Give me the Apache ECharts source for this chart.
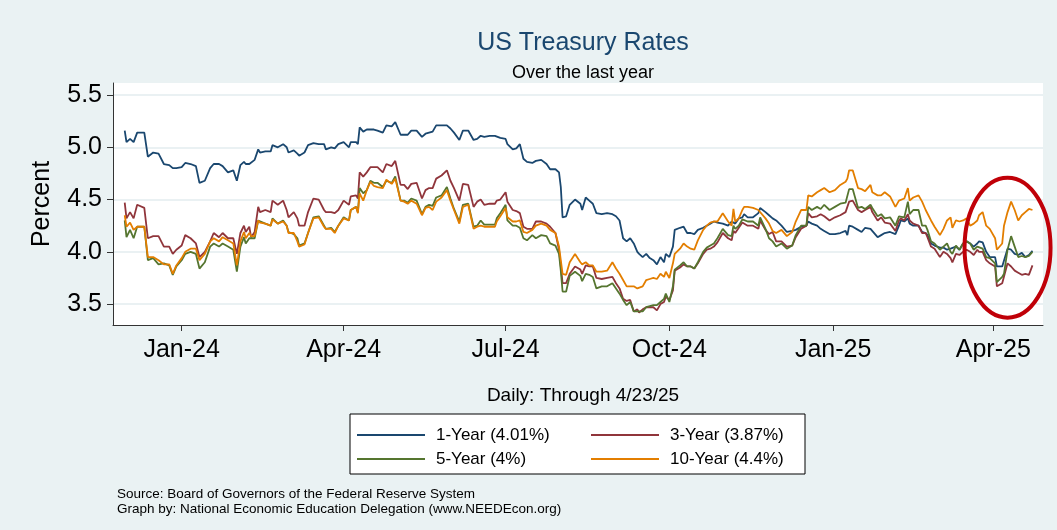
<!DOCTYPE html>
<html>
<head>
<meta charset="utf-8">
<title>US Treasury Rates</title>
<script src="https://cdn.jsdelivr.net/npm/echarts@6/dist/echarts.min.js"></script>
<style>
html, body { margin: 0; padding: 0; background: #fff; }
#rates_chart { width: 1057px; height: 530px; }
</style>
</head>
<body>
<div id="rates_chart"></div>
<script>
//日期
var dates = [
	'2023-11-30','2023-12-01','2023-12-03','2023-12-05','2023-12-07','2023-12-11','2023-12-13','2023-12-16','2023-12-19','2023-12-22','2023-12-25','2023-12-27','2023-12-29','2024-01-01','2024-01-03','2024-01-06','2024-01-09','2024-01-11','2024-01-14','2024-01-17','2024-01-19','2024-01-22','2024-01-24','2024-01-27','2024-01-30','2024-02-01','2024-02-03','2024-02-05','2024-02-06','2024-02-08',
	'2024-02-09','2024-02-11','2024-02-13','2024-02-14','2024-02-17','2024-02-20','2024-02-21','2024-02-24','2024-02-27','2024-02-29','2024-03-01','2024-03-04','2024-03-06','2024-03-07','2024-03-10','2024-03-12','2024-03-15','2024-03-18','2024-03-21','2024-03-22','2024-03-25','2024-03-27','2024-03-29','2024-04-01','2024-04-04','2024-04-05','2024-04-08','2024-04-09','2024-04-10','2024-04-12','2024-04-14','2024-04-16','2024-04-18','2024-04-20',
	'2024-04-21','2024-04-23','2024-04-25','2024-04-28','2024-04-30','2024-05-03','2024-05-05','2024-05-07','2024-05-09','2024-05-12','2024-05-15','2024-05-17','2024-05-19','2024-05-21','2024-05-23','2024-05-26','2024-05-29','2024-05-31','2024-06-02','2024-06-05','2024-06-07','2024-06-10','2024-06-13','2024-06-15','2024-06-17','2024-06-19','2024-06-22','2024-06-25','2024-06-26','2024-06-28','2024-07-01','2024-07-02',
	'2024-07-05','2024-07-07','2024-07-09','2024-07-11','2024-07-13','2024-07-16','2024-07-18','2024-07-21','2024-07-24','2024-07-26','2024-07-29','2024-07-31','2024-08-01','2024-08-02','2024-08-04','2024-08-06','2024-08-09','2024-08-12','2024-08-13','2024-08-15','2024-08-17','2024-08-19','2024-08-21','2024-08-24','2024-08-27','2024-08-30','2024-09-01','2024-09-03','2024-09-05','2024-09-07','2024-09-09','2024-09-11','2024-09-13','2024-09-14',
	'2024-09-16','2024-09-18','2024-09-20','2024-09-22','2024-09-24','2024-09-26','2024-09-28','2024-09-29','2024-10-01','2024-10-03','2024-10-04','2024-10-07','2024-10-09','2024-10-11','2024-10-13','2024-10-15','2024-10-17','2024-10-20','2024-10-22','2024-10-24','2024-10-26','2024-10-28','2024-10-31','2024-11-03','2024-11-05','2024-11-06','2024-11-07','2024-11-09','2024-11-11','2024-11-12','2024-11-14','2024-11-17','2024-11-20','2024-11-21','2024-11-24','2024-11-26',
	'2024-11-28','2024-11-30','2024-12-03','2024-12-06','2024-12-09','2024-12-11','2024-12-14','2024-12-17','2024-12-18','2024-12-20','2024-12-23','2024-12-25','2024-12-27','2024-12-30','2025-01-02','2025-01-05','2025-01-08','2025-01-09','2025-01-10','2025-01-12','2025-01-15','2025-01-17','2025-01-19','2025-01-22','2025-01-23','2025-01-26','2025-01-28','2025-01-30','2025-02-02','2025-02-05','2025-02-07',
	'2025-02-08','2025-02-10','2025-02-12','2025-02-13','2025-02-15','2025-02-18','2025-02-20','2025-02-22','2025-02-23','2025-02-25','2025-02-27','2025-03-02','2025-03-04','2025-03-06','2025-03-08','2025-03-09','2025-03-11','2025-03-13','2025-03-15','2025-03-17','2025-03-19','2025-03-21','2025-03-23','2025-03-24','2025-03-26','2025-03-28','2025-03-30','2025-04-02','2025-04-03','2025-04-06','2025-04-07','2025-04-09','2025-04-11','2025-04-13','2025-04-15','2025-04-17','2025-04-19','2025-04-21','2025-04-23'
];
//1-Year
var oneYear = [
	5.16,5.05,5.08,5.05,5.14,5.14,4.91,4.95,4.94,4.84,4.83,4.80,4.80,4.81,4.85,4.84,4.82,4.66,4.68,4.80,4.84,4.84,4.82,4.76,4.78,4.68,4.83,4.86,4.84,4.84,
	4.84,4.88,4.98,4.95,4.96,4.96,5.02,5.00,5.03,5.00,4.95,4.97,4.94,4.92,4.95,5.02,5.04,5.03,5.03,4.98,5.00,4.99,5.03,5.05,5.00,5.05,5.05,5.03,5.19,5.15,5.17,5.17,5.17,5.16,
	5.16,5.14,5.21,5.20,5.24,5.12,5.12,5.12,5.16,5.16,5.10,5.13,5.14,5.15,5.21,5.21,5.21,5.18,5.14,5.07,5.16,5.16,5.07,5.08,5.11,5.10,5.11,5.11,5.12,5.09,5.08,5.03,
	4.98,4.99,5.03,4.89,4.86,4.85,4.87,4.88,4.84,4.79,4.79,4.76,4.62,4.33,4.34,4.45,4.50,4.46,4.40,4.52,4.49,4.46,4.37,4.36,4.37,4.36,4.34,4.30,4.13,4.10,4.13,4.08,4.00,3.98,
	3.95,3.98,3.94,3.92,3.88,3.95,3.90,3.98,3.95,4.05,4.21,4.23,4.24,4.18,4.18,4.17,4.21,4.23,4.25,4.27,4.29,4.28,4.27,4.25,4.29,4.30,4.27,4.32,4.33,4.36,4.33,4.33,4.37,4.42,4.38,4.35,
	4.32,4.30,4.25,4.19,4.20,4.21,4.24,4.25,4.29,4.27,4.25,4.22,4.20,4.17,4.17,4.18,4.20,4.16,4.25,4.24,4.21,4.19,4.23,4.22,4.21,4.14,4.16,4.18,4.19,4.17,4.25,
	4.30,4.29,4.32,4.27,4.25,4.25,4.19,4.18,4.16,4.08,4.06,4.04,4.04,4.02,4.03,4.02,4.05,4.02,4.08,4.10,4.08,4.05,4.08,4.10,4.09,4.00,3.95,3.95,3.86,3.86,3.86,4.03,4.02,3.98,3.97,3.99,3.95,3.97,4.01
];
//3-Year
var threeYear = [
	4.47,4.32,4.38,4.32,4.45,4.42,4.13,4.15,4.15,4.05,4.05,3.98,4.02,4.06,4.16,4.13,4.08,3.95,4.00,4.10,4.18,4.14,4.18,4.13,4.13,3.98,4.18,4.25,4.19,4.24,
	4.14,4.19,4.43,4.38,4.40,4.38,4.49,4.45,4.49,4.40,4.33,4.38,4.32,4.25,4.25,4.38,4.51,4.50,4.40,4.38,4.38,4.37,4.40,4.49,4.45,4.53,4.54,4.51,4.76,4.72,4.76,4.81,4.81,4.81,
	4.81,4.76,4.84,4.82,4.87,4.64,4.64,4.60,4.65,4.66,4.51,4.59,4.61,4.61,4.70,4.73,4.78,4.68,4.61,4.49,4.65,4.64,4.43,4.48,4.50,4.45,4.46,4.46,4.49,4.50,4.57,4.48,
	4.40,4.39,4.37,4.24,4.22,4.22,4.29,4.29,4.27,4.24,4.18,4.02,3.86,3.70,3.70,3.79,3.86,3.83,3.79,3.87,3.86,3.86,3.75,3.74,3.75,3.76,3.70,3.65,3.55,3.53,3.54,3.43,3.45,3.42,
	3.45,3.47,3.47,3.47,3.44,3.50,3.52,3.57,3.54,3.63,3.82,3.85,3.88,3.86,3.86,3.84,3.89,3.98,4.02,4.03,4.05,4.09,4.18,4.13,4.11,4.20,4.18,4.23,4.28,4.27,4.25,4.25,4.22,4.30,4.21,4.17,
	4.19,4.10,4.10,4.05,4.06,4.14,4.22,4.25,4.37,4.33,4.34,4.36,4.34,4.30,4.33,4.35,4.38,4.37,4.48,4.49,4.40,4.38,4.40,4.43,4.38,4.30,4.33,4.28,4.27,4.20,4.30,
	4.32,4.30,4.36,4.30,4.27,4.25,4.18,4.18,4.14,4.05,4.03,3.95,4.00,3.98,3.94,3.90,3.98,3.97,4.00,4.02,4.00,3.97,4.02,4.00,4.00,3.92,3.89,3.86,3.67,3.70,3.71,3.89,3.86,3.82,3.80,3.78,3.79,3.78,3.87
];
//5-Year
var fiveYear = [
	4.30,4.14,4.21,4.13,4.24,4.24,3.92,3.94,3.88,3.89,3.87,3.78,3.86,3.92,3.98,4.00,3.98,3.84,3.90,4.05,4.08,4.05,4.08,4.05,4.02,3.81,4.05,4.14,4.08,4.13,
	4.13,4.13,4.30,4.29,4.27,4.25,4.32,4.27,4.30,4.25,4.19,4.17,4.13,4.06,4.08,4.18,4.33,4.34,4.25,4.22,4.23,4.19,4.25,4.33,4.30,4.40,4.43,4.38,4.61,4.56,4.59,4.68,4.66,4.66,
	4.65,4.62,4.68,4.66,4.72,4.49,4.49,4.47,4.51,4.49,4.36,4.43,4.45,4.44,4.52,4.54,4.62,4.51,4.41,4.29,4.45,4.46,4.24,4.25,4.30,4.26,4.26,4.26,4.32,4.37,4.45,4.30,
	4.25,4.25,4.23,4.13,4.11,4.16,4.13,4.16,4.15,4.08,4.06,3.98,3.82,3.62,3.62,3.77,3.81,3.77,3.72,3.79,3.78,3.76,3.65,3.67,3.67,3.70,3.65,3.60,3.54,3.49,3.52,3.43,3.43,3.42,
	3.43,3.47,3.48,3.49,3.49,3.52,3.55,3.60,3.52,3.67,3.83,3.87,3.90,3.86,3.86,3.84,3.90,4.00,4.04,4.06,4.08,4.13,4.22,4.16,4.15,4.25,4.22,4.25,4.31,4.31,4.29,4.29,4.25,4.33,4.22,4.13,
	4.10,4.05,4.08,4.03,4.06,4.16,4.25,4.25,4.43,4.40,4.43,4.41,4.45,4.40,4.43,4.46,4.47,4.46,4.60,4.60,4.42,4.43,4.41,4.45,4.42,4.34,4.36,4.32,4.33,4.25,4.34,
	4.34,4.33,4.48,4.36,4.40,4.40,4.25,4.25,4.21,4.10,4.08,4.02,4.05,4.08,4.00,3.98,4.06,4.02,4.08,4.10,4.08,4.02,4.05,4.06,4.03,3.95,3.94,3.89,3.71,3.76,3.79,4.02,4.15,4.05,3.95,3.96,3.95,3.96,4.00
];
//10-Year
var tenYear = [
	4.35,4.24,4.28,4.21,4.24,4.24,3.95,3.95,3.92,3.88,3.88,3.79,3.87,3.94,4.00,4.03,4.03,3.92,3.98,4.10,4.13,4.10,4.14,4.11,4.08,3.87,4.10,4.19,4.13,4.18,
	4.15,4.15,4.30,4.28,4.27,4.25,4.31,4.27,4.29,4.25,4.18,4.18,4.10,4.05,4.07,4.18,4.32,4.33,4.24,4.22,4.22,4.18,4.25,4.32,4.30,4.40,4.43,4.37,4.56,4.49,4.59,4.67,4.63,4.62,
	4.62,4.61,4.69,4.65,4.70,4.49,4.48,4.46,4.49,4.46,4.35,4.42,4.43,4.40,4.48,4.52,4.59,4.49,4.40,4.27,4.43,4.45,4.22,4.24,4.25,4.24,4.24,4.24,4.29,4.34,4.42,4.33,
	4.29,4.29,4.30,4.19,4.18,4.21,4.25,4.27,4.25,4.21,4.18,4.05,3.92,3.79,3.78,3.90,3.98,3.90,3.88,3.90,3.87,3.87,3.81,3.81,3.82,3.90,3.84,3.79,3.73,3.67,3.67,3.67,3.65,3.64,
	3.67,3.73,3.74,3.75,3.74,3.79,3.76,3.81,3.75,3.89,3.98,4.03,4.08,4.05,4.03,4.02,4.11,4.21,4.25,4.28,4.29,4.29,4.37,4.29,4.25,4.41,4.29,4.32,4.40,4.43,4.43,4.42,4.40,4.41,4.32,4.27,
	4.20,4.18,4.21,4.15,4.19,4.29,4.40,4.40,4.54,4.53,4.57,4.59,4.61,4.57,4.59,4.64,4.67,4.70,4.78,4.78,4.61,4.60,4.58,4.64,4.57,4.54,4.54,4.57,4.53,4.43,4.49,
	4.49,4.51,4.61,4.49,4.52,4.54,4.48,4.40,4.40,4.30,4.24,4.16,4.22,4.30,4.33,4.23,4.30,4.29,4.30,4.32,4.25,4.27,4.30,4.35,4.38,4.25,4.22,4.13,4.02,4.08,4.25,4.38,4.48,4.40,4.30,4.35,4.38,4.41,4.40
];
//axis ticks
var xTicks = ['2024-01-01','2024-04-01','2024-07-01','2024-10-01','2025-01-01','2025-04-01'];
var yTicks = [3.5, 4.0, 4.5, 5.0, 5.5];
var monthNames = ['Jan','Feb','Mar','Apr','May','Jun','Jul','Aug','Sep','Oct','Nov','Dec'];
var seriesNames = ['1-Year (4.01%)', '3-Year (3.87%)', '5-Year (4%)', '10-Year (4.4%)'];
var seriesColors = ['#1a476f', '#90353b', '#55752f', '#e37e00'];

var rates_chart;
var FONT = 'Liberation Sans';

//date string -> timestamp
function ts(d){
	return echarts.time.parse(d).getTime();
}

function pairs(values){
	return dates.map(function(d, i){ return [ts(d), values[i]]; });
}

//legend block (one column)
function legendColumn(names, left){
	return {
		data: names, orient: 'vertical', left: left, top: 421,
		icon: 'rect', itemWidth: 68, itemHeight: 2, itemGap: 6,
		textStyle: {fontSize: 17, lineHeight: 18, color: '#000', fontFamily: FONT, padding: [0, 0, 0, 6]}
	};
}

function loadRatesChart(){
	rates_chart = echarts.init(document.getElementById('rates_chart'), null, {renderer: 'canvas'});
	var allValues = [oneYear, threeYear, fiveYear, tenYear];
	var series = allValues.map(function(vals, i){
		return {
			name: seriesNames[i],
			type: 'line',
			symbol: 'none',
			data: pairs(vals),
			color: seriesColors[i],
			lineStyle: {width: 1.8, color: seriesColors[i]},
			animation: false
		};
	});
	var xTickValues = xTicks.map(ts);

	var option = {
		backgroundColor: '#eaf2f3',
		textStyle: {fontFamily: FONT},
		title: [
			{text: 'US Treasury Rates', left: 578, textAlign: 'center', top: 26,
				textStyle: {color: '#1a476f', fontSize: 25, fontWeight: 'normal', fontFamily: FONT}},
			{text: 'Over the last year', left: 578, textAlign: 'center', top: 59,
				textStyle: {color: '#000', fontSize: 18, fontWeight: 'normal', fontFamily: FONT}},
			{text: 'Daily: Through 4/23/25', left: 578, textAlign: 'center', top: 381,
				textStyle: {color: '#000', fontSize: 19, fontWeight: 'normal', fontFamily: FONT}},
			{text: 'Source: Board of Governors of the Federal Reserve System\nGraph by: National Economic Education Delegation (www.NEEDEcon.org)',
				left: 112, top: 482,
				textStyle: {color: '#000', fontSize: 13.5, lineHeight: 15, fontWeight: 'normal', fontFamily: FONT}}
		],
		grid: {left: 113, right: 14, top: 83, bottom: 205, show: true, backgroundColor: '#fff', borderWidth: 0},
		legend: [
			legendColumn([seriesNames[0], seriesNames[2]], 352),
			legendColumn([seriesNames[1], seriesNames[3]], 586)
		],
		xAxis: {
			type: 'value',
			min: ts('2023-11-23 10:00'),
			max: ts('2025-04-28 22:00'),
			axisLine: {lineStyle: {color: '#333', width: 1}},
			axisTick: {show: true, length: 6, lineStyle: {color: '#333'}, customValues: xTickValues},
			axisLabel: {
				fontSize: 25, color: '#000', margin: 13, fontFamily: FONT,
				customValues: xTickValues,
				formatter: function(v){
					var d = new Date(v);
					return monthNames[d.getMonth()] + '-' + String(d.getFullYear()).slice(2);
				}
			},
			splitLine: {show: false}
		},
		yAxis: {
			type: 'value',
			min: 3.3,
			max: 5.615,
			name: 'Percent',
			nameLocation: 'middle',
			nameGap: 58,
			nameTextStyle: {fontSize: 25, color: '#000', fontFamily: FONT},
			axisLine: {show: true, lineStyle: {color: '#333', width: 1}},
			axisTick: {show: true, length: 6, lineStyle: {color: '#333'}, customValues: yTicks},
			axisLabel: {fontSize: 25, color: '#000', margin: 11, fontFamily: FONT, customValues: yTicks,
				formatter: function(v){ return v.toFixed(1); }},
			splitLine: {show: true, lineStyle: {color: '#e3ecef', width: 1.5}}
		},
		graphic: [
			{type: 'rect', z: 1, shape: {x: 350, y: 414, width: 455, height: 60},
				style: {fill: '#fff', stroke: '#000', lineWidth: 1}}
		],
		series: series
	};
	rates_chart.setOption(option);

	//red ellipse around April 2025
	var c = rates_chart.convertToPixel({gridIndex: 0}, [ts('2025-04-09'), 4.04]);
	rates_chart.setOption({
		graphic: [
			{type: 'rect', z: 1, shape: {x: 350, y: 414, width: 455, height: 60},
				style: {fill: '#fff', stroke: '#000', lineWidth: 1}},
			{type: 'ellipse', z: 100, shape: {cx: c[0], cy: c[1], rx: 43, ry: 70},
				style: {fill: 'none', stroke: '#c00008', lineWidth: 4}}
		]
	});
}

loadRatesChart();
</script>
</body>
</html>
